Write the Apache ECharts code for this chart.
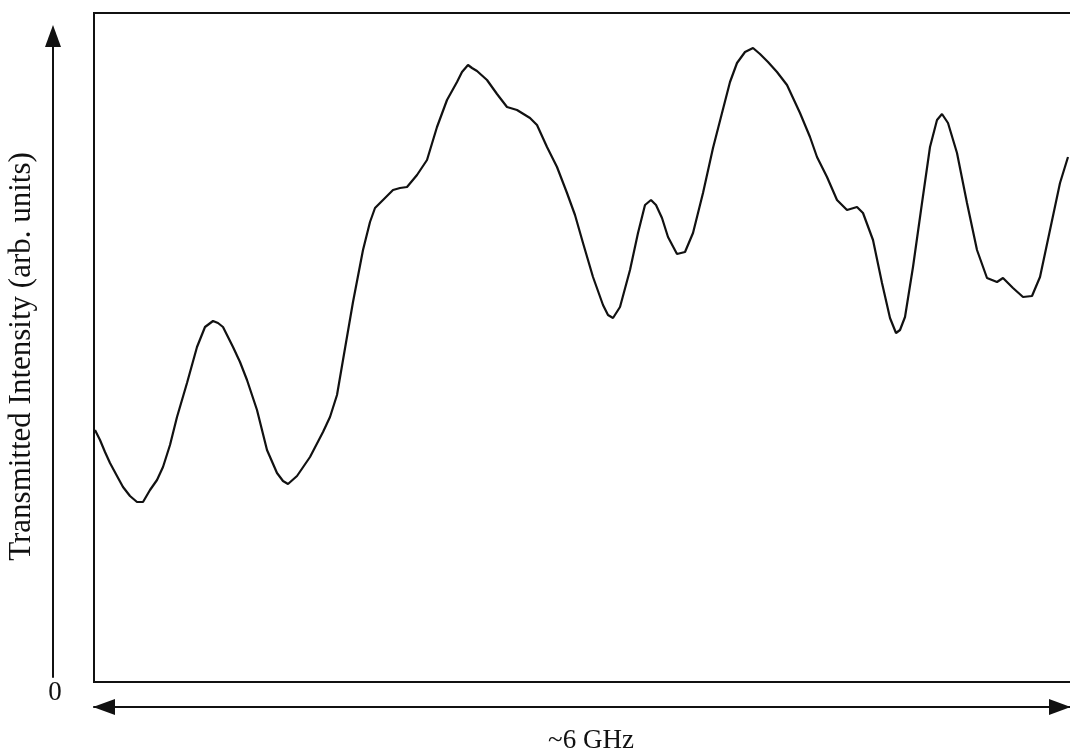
<!DOCTYPE html>
<html>
<head>
<meta charset="utf-8">
<title>Transmitted Intensity</title>
<script src="https://cdn.jsdelivr.net/npm/echarts@6/dist/echarts.min.js"></script>
<style>
  html, body { margin: 0; padding: 0; background: #fff; }
  #chart { width: 1070px; height: 754px; }
</style>
</head>
<body>
<div id="chart"></div>
<script>
// Frequency position across the ~6 GHz sweep (arbitrary offset units, 0..986 spans the frame)
const freqOffset = [1,6,11,16,23,29,36,43,49,56,63,69,76,83,93,103,111,119,124,129,139,146,153,163,173,183,189,194,203,216,229,236,243,249,259,269,276,281,289,299,306,313,323,333,343,353,363,368,374,378,383,393,403,413,423,436,443,453,463,473,481,489,499,509,514,519,526,536,544,551,557,562,568,574,583,591,599,609,619,628,636,643,651,659,666,674,683,693,706,716,723,733,743,753,763,769,779,788,796,802,806,811,819,828,836,843,848,854,863,873,883,893,903,909,919,929,938,946,956,966,974];

// Transmitted intensity (arb. units, 0 at the bottom of the frame)
const intensity = [252,242,230,219,206,195,186,180,180,192,202,215,237,265,299,335,355,361,359,355,335,320,302,272,232,209,201,198,206,225,250,265,287,322,380,432,460,474,482,492,494,495,507,522,555,582,600,610,617,614,611,602,588,575,572,564,557,535,515,489,467,439,405,377,367,364,375,412,449,477,482,477,464,445,428,430,449,489,534,569,600,619,630,634,628,620,610,597,569,545,525,505,482,472,475,469,442,399,364,349,352,365,415,479,535,562,568,559,529,479,432,404,400,404,394,385,386,405,452,499,525];

const xTitle = '~6 GHz';
const yTitle = 'Transmitted Intensity (arb. units)';
const yZeroLabel = '0';

const ink = '#111';
const serif = '"Liberation Serif", "DejaVu Serif", serif';

const chart = echarts.init(document.getElementById('chart'), null, { renderer: 'canvas' });

chart.setOption({
  animation: false,
  backgroundColor: '#fff',
  grid: [
    // framed plotting area; its right side runs past the page edge
    { left: 94, top: 13, width: 986, bottom: 72, show: true, borderColor: ink, borderWidth: 2,
      backgroundColor: 'transparent', outerBoundsMode: 'none', containLabel: false },
    // narrow grid carrying the intensity arrow
    { left: 53, top: 36, width: 10, bottom: 77, show: false, outerBoundsMode: 'none', containLabel: false }
  ],
  xAxis: [
    {
      type: 'value', gridIndex: 0, min: 0, max: 986,
      offset: 25,
      axisLine: {
        show: true,
        onZero: false,
        lineStyle: { color: ink, width: 2 },
        symbol: ['triangle', 'triangle'],
        symbolSize: [16, 22],
        symbolOffset: [10, -20]
      },
      axisTick: { show: false },
      axisLabel: { show: false },
      splitLine: { show: false },
      name: xTitle,
      nameLocation: 'middle',
      nameGap: 20,
      nameTextStyle: { fontFamily: serif, fontSize: 27, color: ink, padding: [0, 0, 0, 8] }
    },
    {
      type: 'value', gridIndex: 1, min: 0, max: 1,
      show: false
    }
  ],
  yAxis: [
    {
      type: 'value', gridIndex: 0, min: 0, max: 669,
      show: false
    },
    {
      type: 'value', gridIndex: 1, min: 0, max: 1, interval: 1,
      position: 'left',
      axisLine: {
        show: true,
        onZero: false,
        lineStyle: { color: ink, width: 2 },
        symbol: ['none', 'triangle'],
        symbolSize: [16, 22]
      },
      axisTick: { show: false },
      splitLine: { show: false },
      axisLabel: {
        show: true,
        margin: -2,
        align: 'center',
        verticalAlign: 'top',
        padding: [2, 0, 0, 0],
        fontFamily: serif,
        fontSize: 27,
        color: ink,
        formatter: function (v) { return v === 0 ? yZeroLabel : ''; }
      },
      name: yTitle,
      nameLocation: 'middle',
      nameGap: 16,
      nameRotate: 90,
      nameTextStyle: { fontFamily: serif, fontSize: 31, color: ink }
    }
  ],
  series: [
    {
      type: 'line',
      xAxisIndex: 0,
      yAxisIndex: 0,
      data: freqOffset.map(function (f, i) { return [f, intensity[i]]; }),
      showSymbol: false,
      smooth: false,
      lineStyle: { color: ink, width: 2.2 },
      silent: true
    }
  ]
});
</script>
</body>
</html>
